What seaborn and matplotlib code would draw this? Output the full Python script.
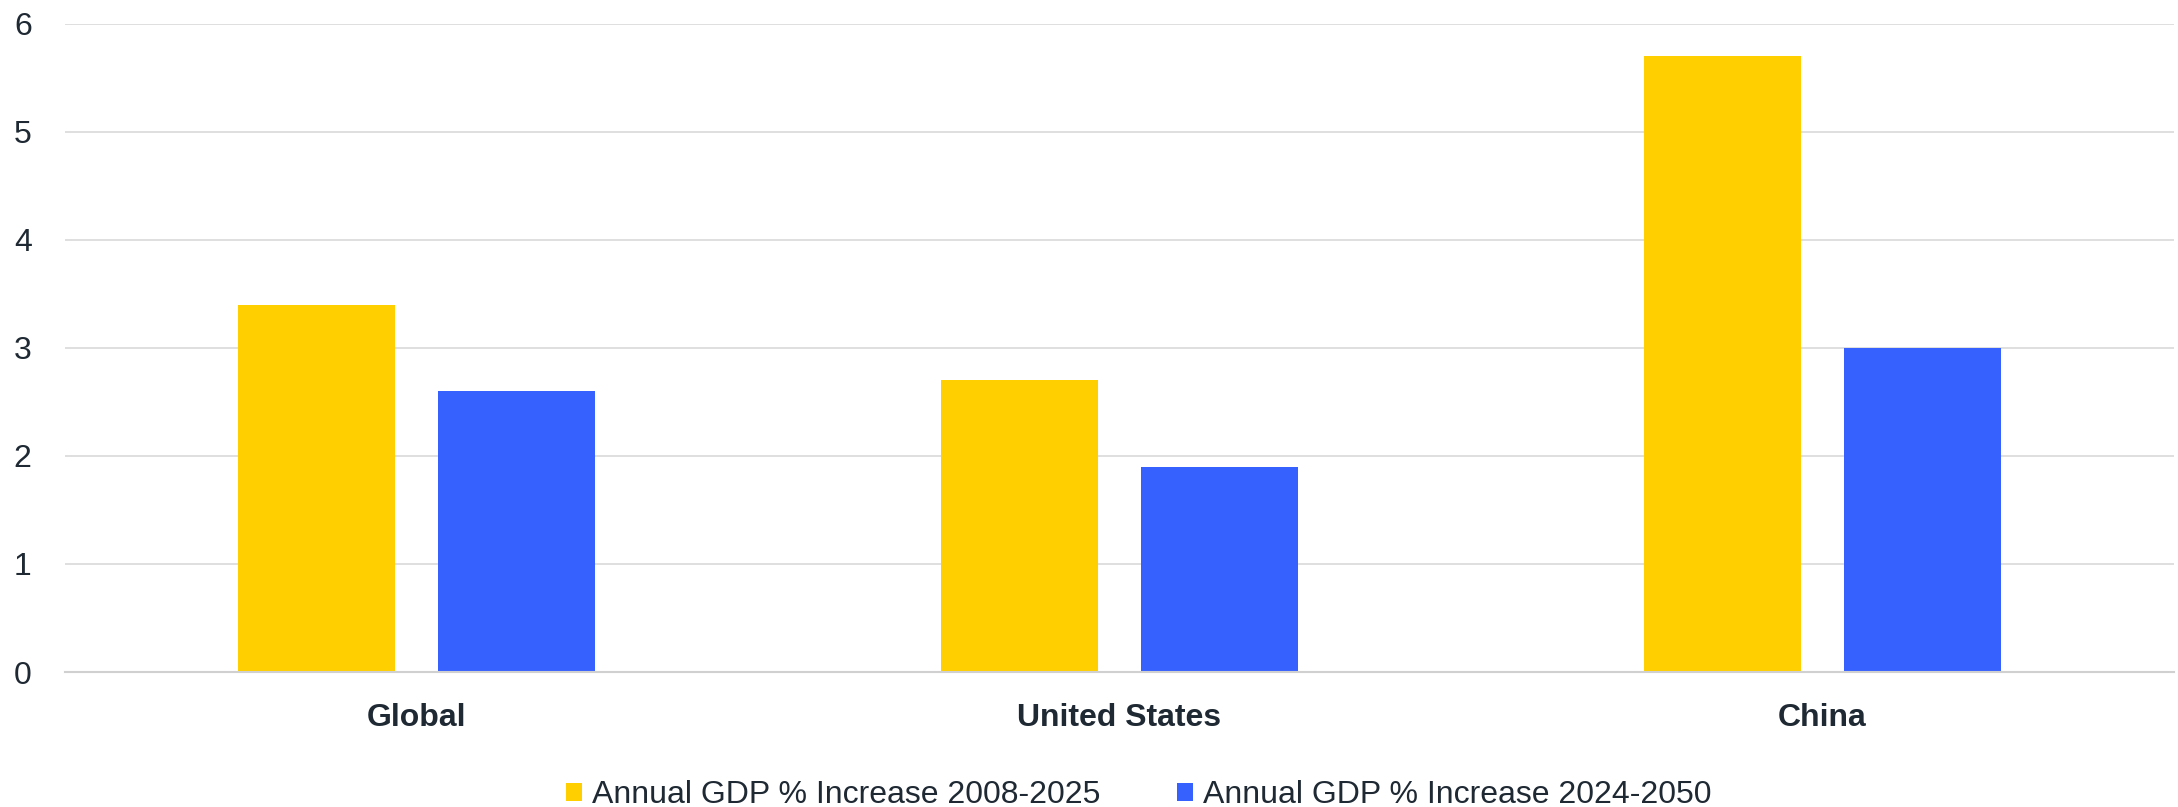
import matplotlib
matplotlib.use("Agg")
import matplotlib.pyplot as plt
import seaborn as sns
import pandas as pd

regions = ["Global", "United States", "China"]
series_names = ["Annual GDP % Increase 2008-2025", "Annual GDP % Increase 2024-2050"]
values_2008_2025 = [3.4, 2.7, 5.7]
values_2024_2050 = [2.6, 1.9, 3.0]
y_ticks = [0, 1, 2, 3, 4, 5, 6]

df = pd.DataFrame({
    "Region": regions * 2,
    "Series": [series_names[0]] * 3 + [series_names[1]] * 3,
    "Value": values_2008_2025 + values_2024_2050,
})

sns.set_theme(style="white")
plt.rcParams["font.family"] = ["Liberation Sans", "DejaVu Sans"]
text_color = "#1f2933"
fs = 23

fig = plt.figure(figsize=(21.78, 8.07), dpi=100)
ax = fig.add_axes([65 / 2178, 1 - 672 / 807, (2174 - 65) / 2178, (672 - 23.6) / 807])

sns.barplot(data=df, x="Region", y="Value", hue="Series", order=regions,
            hue_order=series_names, palette=["#FFCF00", "#3761FF"],
            width=0.57, gap=0.218, ax=ax, saturation=1, linewidth=0)

ax.set_xlim(-0.5, 2.5)
ax.set_ylim(0, 6)
ax.set_yticks(y_ticks)
ax.set_yticklabels([str(t) for t in y_ticks], fontsize=fs, color=text_color)
ax.set_xticks(range(len(regions)))
ax.set_xticklabels(regions, fontsize=fs, fontweight="bold", color=text_color)
ax.tick_params(axis="y", length=0, pad=24)
ax.tick_params(axis="x", length=0, pad=22)
ax.set_xlabel("")
ax.set_ylabel("")
ax.yaxis.grid(True, color="#d9d9d9", linewidth=1.2)
ax.set_axisbelow(True)
for s in ["top", "right", "left"]:
    ax.spines[s].set_visible(False)
ax.spines["bottom"].set_color("#d0d0d0")
ax.spines["bottom"].set_linewidth(1.5)

handles, labels = ax.get_legend_handles_labels()
ax.legend(handles, labels, loc="center", bbox_to_anchor=(0.509, -0.19),
          ncol=2, frameon=False, fontsize=fs, handlelength=0.52, handleheight=0.52,
          handletextpad=0.3, columnspacing=2.4, labelcolor=text_color)

fig.savefig("out.png", dpi=100)
